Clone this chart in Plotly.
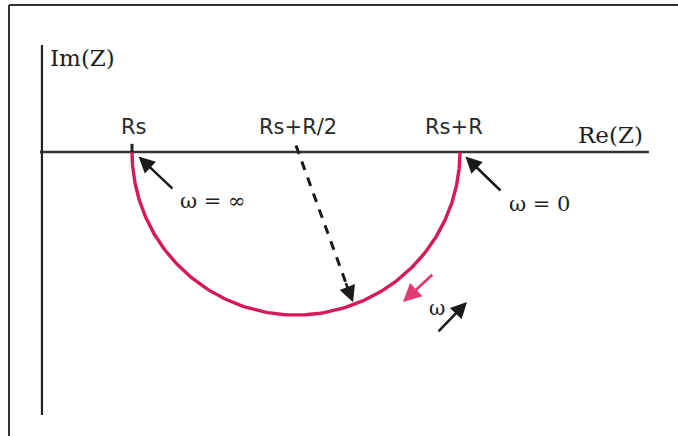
import numpy as np
import plotly.graph_objects as go

# Equivalent-circuit parameters (arbitrary units): series resistance and parallel R
RS = 1.0
R = 2.0

# Labelled points on the real axis
tick_values = [RS, RS + R / 2, RS + R]
tick_labels = ["Rs", "Rs+R/2", "Rs+R"]

# Angular frequency sweep (rad/s, with RC = 1) for the Nyquist arc
omega = np.logspace(-3, 3, 600)

# Impedance of Rs in series with (R || C)
Z = RS + R / (1 + 1j * omega)
re_z = Z.real
im_z = Z.imag  # negative: the arc hangs below the real axis

ARC = "#d6185c"
INK = "#1a1a1a"
SANS = "DejaVu Sans"
SERIF = "DejaVu Serif"

fig = go.Figure()

# Real axis and imaginary axis
fig.add_trace(go.Scatter(x=[0.439, 4.152], y=[0, 0], mode="lines",
                         line=dict(color="#333", width=2.5), hoverinfo="skip"))
fig.add_trace(go.Scatter(x=[0.451, 0.451], y=[0.656, -1.613], mode="lines",
                         line=dict(color="#222", width=2.2), hoverinfo="skip"))

# Small tick at Rs
fig.add_trace(go.Scatter(x=[RS, RS], y=[0.05, 0], mode="lines",
                         line=dict(color="#222", width=3), hoverinfo="skip"))

# Nyquist semicircle
fig.add_trace(go.Scatter(x=re_z, y=im_z, mode="lines",
                         line=dict(color=ARC, width=3.4), hoverinfo="skip"))

# Dashed radius from the centre of the arc
centre = RS + R / 2
ang = np.deg2rad(20.7)
r_end = 0.9 * R / 2
fig.add_trace(go.Scatter(x=[centre, centre + r_end * np.sin(ang)],
                         y=[0.04, -r_end * np.cos(ang)], mode="lines",
                         line=dict(color=INK, width=3, dash="9px,8px"),
                         hoverinfo="skip"))

annotations = []

# Real-axis labels
for v, t, dx in zip(tick_values, tick_labels, [2, 2, -6]):
    annotations.append(dict(x=v, y=0.153, text=t, showarrow=False, xshift=dx,
                            font=dict(family=SANS, size=21, color="#2a2a2a"),
                            xanchor="center", yanchor="middle"))

# Axis titles
annotations.append(dict(x=0.488, y=0.575, text="Im(Z)", showarrow=False,
                        font=dict(family=SERIF, size=23, color="#1e1e1e"),
                        xanchor="left", yanchor="middle"))
annotations.append(dict(x=4.128, y=0.105, text="Re(Z)", showarrow=False,
                        font=dict(family=SERIF, size=23, color="#1e1e1e"),
                        xanchor="right", yanchor="middle"))

# Frequency limits
annotations.append(dict(x=1.28, y=-0.30, text="ω = ∞", showarrow=False,
                        font=dict(family=SERIF, size=21, color="#1e1e1e"),
                        xanchor="left", yanchor="middle"))
annotations.append(dict(x=3.287, y=-0.32, text="ω = 0", showarrow=False,
                        font=dict(family=SERIF, size=21, color="#1e1e1e"),
                        xanchor="left", yanchor="middle"))
annotations.append(dict(x=2.86, y=-0.955, text="ω", showarrow=False,
                        font=dict(family=SERIF, size=20, color="#1e1e1e"),
                        xanchor="center", yanchor="middle"))

def arrow(x0, y0, x1, y1, color=INK, width=2.5, size=1.3):
    return dict(x=x1, y=y1, ax=x0, ay=y0, xref="x", yref="y", axref="x", ayref="y",
                text="", showarrow=True, arrowhead=2, arrowsize=size,
                arrowwidth=width, arrowcolor=color)

annotations.append(arrow(1.256, -0.233, 1.040, -0.028))
annotations.append(arrow(3.256, -0.245, 3.033, -0.028))
annotations.append(arrow(2.86, -1.11, 3.043, -0.92))
annotations.append(arrow(2.84, -0.745, 2.652, -0.92, color="#e23a72", width=2.8))
# Arrow head at the end of the dashed radius
annotations.append(arrow(centre + 0.85 * np.sin(ang), -0.85 * np.cos(ang),
                         centre + 0.985 * np.sin(ang), -0.985 * np.cos(ang)))

fig.update_layout(
    width=678, height=436,
    margin=dict(l=0, r=0, t=0, b=0),
    paper_bgcolor="white", plot_bgcolor="white",
    showlegend=False,
    xaxis=dict(range=[0.19512, 4.32927], visible=False, fixedrange=True),
    yaxis=dict(range=[-1.74233, 0.93252], visible=False, fixedrange=True),
    annotations=annotations,
    shapes=[
        dict(type="line", xref="paper", yref="paper", x0=9 / 678, x1=1,
             y0=1 - 5 / 436, y1=1 - 5 / 436, line=dict(color="#333", width=2)),
        dict(type="line", xref="paper", yref="paper", x0=9 / 678, x1=9 / 678,
             y0=0, y1=1 - 5 / 436, line=dict(color="#333", width=2)),
    ],
)

fig.write_html("out.html")
